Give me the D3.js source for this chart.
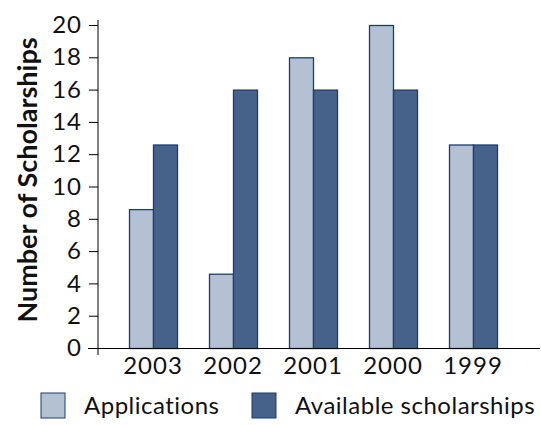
<!DOCTYPE html>
<html>
<head>
<meta charset="utf-8">
<script src="https://cdn.jsdelivr.net/npm/d3@7"></script>
<style>
  body { margin: 0; background: #fff; }
  text { font-family: Lato, "Open Sans", sans-serif; fill: #111; }
</style>
</head>
<body>
<svg id="chart" width="541" height="425"></svg>
<script>
const years = [ "2003", "2002", "2001", "2000", "1999" ];
const applications = [ 8.6, 4.6, 18, 20, 12.6 ];
const available = [ 12.6, 16, 16, 16, 12.6 ];
const yTicks = [ 0, 2, 4, 6, 8, 10, 12, 14, 16, 18, 20 ];
const seriesNames = [ "Applications", "Available scholarships" ];
const seriesColors = [ "#b4c1d2", "#46628b" ];

const svg = d3.select( "#chart" );
const MARGINS = { top: 25, bottom: 348, left: 98 };

const x = d3.scaleBand()
  .domain( years )
  .range( [ 113, 513 ] )
  .paddingInner( 0.4 )
  .paddingOuter( 0.2 );
const sub = d3.scaleBand()
  .domain( [ 0, 1 ] )
  .range( [ 0, x.bandwidth() ] );
const y = d3.scaleLinear()
  .domain( [ 0, 20 ] )
  .range( [ MARGINS.bottom, MARGINS.top ] );

// bars
const rows = years.map( ( yr, i ) => [ applications[i], available[i] ] );
const groups = svg.append( "g" )
  .selectAll( "g" )
  .data( rows )
  .join( "g" )
  .attr( "transform", ( d, i ) => `translate(${x( years[i] )},0)` );
groups.selectAll( "rect" )
  .data( d => d )
  .join( "rect" )
  .attr( "x", ( d, j ) => sub( j ) + 0.5 )
  .attr( "y", d => y( d ) + 0.5 )
  .attr( "width", sub.bandwidth() )
  .attr( "height", d => y( 0 ) - y( d ) )
  .attr( "fill", ( d, j ) => seriesColors[j] )
  .attr( "stroke", "#1c3d6e" )
  .attr( "stroke-width", 1.3 );

// y axis
const yAxis = d3.axisLeft( y ).tickValues( yTicks ).tickSize( 9 ).tickPadding( 7 );
const yg = svg.append( "g" )
  .attr( "transform", `translate(${MARGINS.left},0)` )
  .call( yAxis );
yg.select( ".domain" ).remove();
yg.append( "line" )
  .attr( "x1", 0 ).attr( "x2", 0 )
  .attr( "y1", 20 ).attr( "y2", 355 )
  .attr( "stroke", "#000" );
yg.selectAll( ".tick line" ).attr( "stroke", "#000" );
yg.selectAll( ".tick text" )
  .style( "font-size", "24px" )
  .style( "letter-spacing", "1px" )
  .attr( "fill", "#111" );

// x axis
const xg = svg.append( "g" )
  .attr( "transform", `translate(0,${MARGINS.bottom})` )
  .call( d3.axisBottom( x ).tickSize( 0 ).tickPadding( 9 ) );
xg.select( ".domain" ).remove();
xg.append( "line" )
  .attr( "x1", 88 ).attr( "x2", 540 )
  .attr( "y1", 0.5 ).attr( "y2", 0.5 )
  .attr( "stroke", "#000" );
xg.selectAll( ".tick text" )
  .style( "font-size", "24px" )
  .style( "letter-spacing", "1px" )
  .attr( "fill", "#111" );

// axis title
svg.append( "text" )
  .attr( "transform", "translate(37,180) rotate(-90)" )
  .attr( "text-anchor", "middle" )
  .style( "font-size", "27px" )
  .style( "font-weight", "bold" )
  .text( "Number of Scholarships" );

// legend
const legendX = [ 41, 252 ];
const legend = svg.append( "g" )
  .selectAll( "g" )
  .data( seriesNames )
  .join( "g" )
  .attr( "transform", ( d, i ) => `translate(${legendX[i]},393)` );
legend.append( "rect" )
  .attr( "width", 24 )
  .attr( "height", 25 )
  .attr( "fill", ( d, i ) => seriesColors[i] )
  .attr( "stroke", "#1c3d6e" )
  .attr( "stroke-width", 1 );
legend.append( "text" )
  .attr( "x", 43 )
  .attr( "y", 21 )
  .style( "font-size", "24px" )
  .style( "letter-spacing", "0.5px" )
  .text( d => d );
</script>
</body>
</html>
